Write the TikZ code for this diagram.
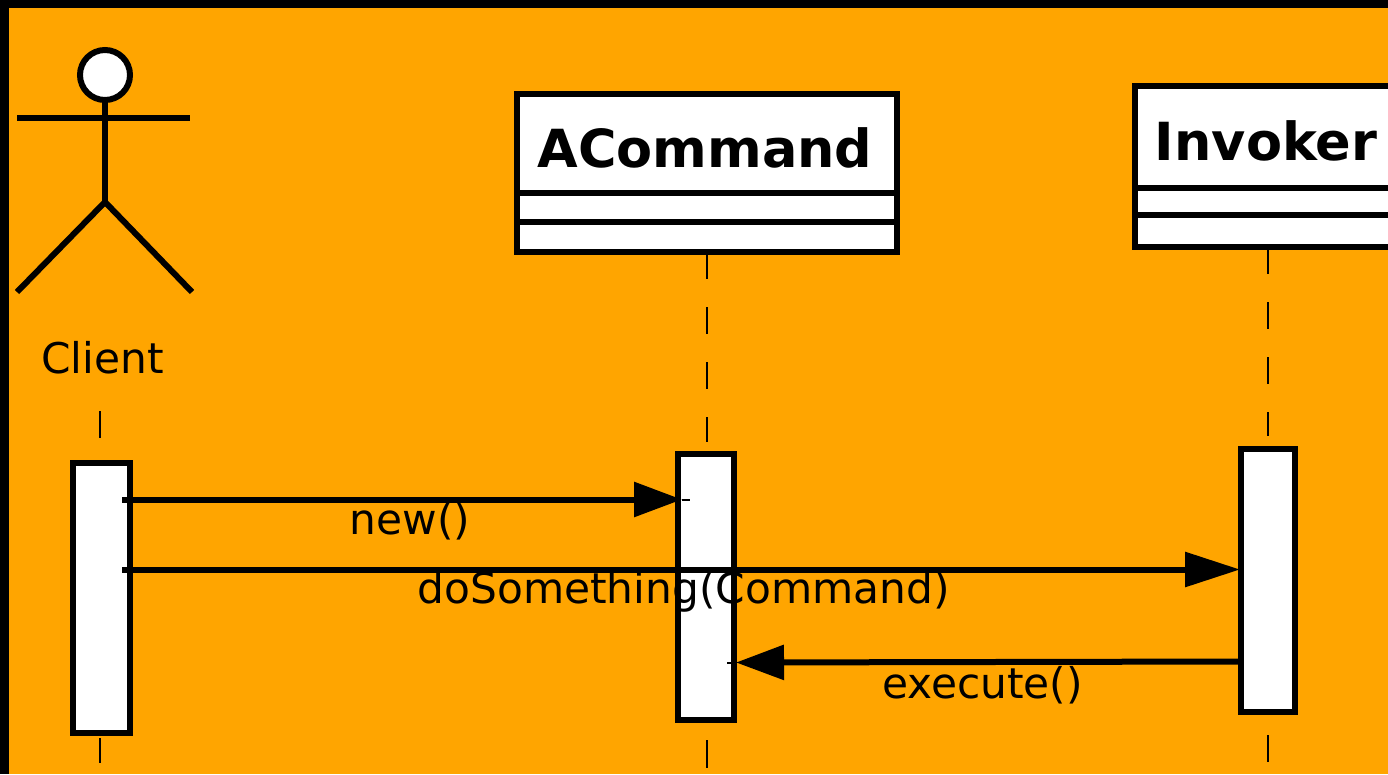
\documentclass[tikz,border=0pt]{standalone}
\usepackage{fontspec}
\setmainfont{DejaVu Sans}
\usetikzlibrary{arrows.meta}
\definecolor{bgorange}{HTML}{FFA500}
\tikzset{
  figure/.style={line width=6pt,line cap=butt},
  boxshape/.style={draw=black,fill=white,line width=6pt,rectangle,inner sep=0pt,outer sep=0pt},
  lifeline/.style={line width=2pt,dash pattern=on 27pt off 28pt},
  message/.style={line width=6pt,-{Triangle[length=48pt,width=34pt]}},
  longmessage/.style={line width=6pt,-{Triangle[length=55pt,width=34pt]}},
  tipline/.style={line width=2pt},
  msgtext/.style={inner sep=0pt,font=\fontsize{42.3}{50}\selectfont,text=black},
  classtext/.style={inner sep=0pt,font=\fontsize{52.5}{60}\bfseries\selectfont,text=black}
}
\begin{document}
\begin{tikzpicture}[x=1pt,y=-1pt]
\useasboundingbox (0,0) rectangle (1388,774);
\clip (0,0) rectangle (1388,774);
\fill[black] (0,0) rectangle (1388,774);
\fill[bgorange] (9,8) rectangle (1388,774);
% named points
\coordinate (clientTop) at (100,411);
\coordinate (clientBelow) at (100,738);
\coordinate (clientEnd) at (100,763);
\coordinate (cmdBelow) at (707,740);
\coordinate (cmdEnd) at (707,768);
\coordinate (invBelow) at (1268,735);
\coordinate (invEnd) at (1268,762);
\coordinate (armL) at (17,118);
\coordinate (armR) at (190,118);
\coordinate (neck) at (105,96);
\coordinate (hip) at (105,202);
\coordinate (legL) at (17,292);
\coordinate (legR) at (192,292);
\coordinate (newS) at (122,499.5);
\coordinate (newE) at (682,499.5);
\coordinate (newTip) at (690,499.5);
\coordinate (doS) at (122,569.5);
\coordinate (doE) at (1240,569.5);
\coordinate (exS) at (1242,661.5);
\coordinate (exE) at (736,662.5);
\coordinate (exTip) at (727,662.5);
\coordinate (cmdS1L) at (520,193);
\coordinate (cmdS1R) at (895,193);
\coordinate (cmdS2L) at (520,222);
\coordinate (cmdS2R) at (895,222);
\coordinate (invS1L) at (1137,188);
\coordinate (invS1R) at (1395,188);
\coordinate (invS2L) at (1137,215);
\coordinate (invS2R) at (1395,215);
\coordinate (cmdLife) at (707,252);
\coordinate (invLife) at (1268,247);
\coordinate (cmdActTop) at (707,442);
\coordinate (invActTop) at (1268,436);
\coordinate (clientActTop) at (100,440);
% class boxes
\node[boxshape,minimum width=380pt,minimum height=158pt] (cmd) at (707,173) {};
\node[boxshape,minimum width=263pt,minimum height=161pt] (inv) at (1266,166.5) {};
\draw[figure] (cmdS1L) -- (cmdS1R);
\draw[figure] (cmdS2L) -- (cmdS2R);
\draw[figure] (invS1L) -- (invS1R);
\draw[figure] (invS2L) -- (invS2R);
\node[classtext] (cmdText) at (705,148) {ACommand};
\node[classtext] (invText) at (1266,140.5) {Invoker};
% actor
\draw[figure] (neck) -- (hip);
\draw[figure] (armL) -- (armR);
\draw[figure] (legL) -- (hip) -- (legR);
\node[boxshape,circle,minimum size=50pt] (head) at (105,75) {};
\node[msgtext] (clientText) at (102.5,358) {Client};
% lifelines
\draw[lifeline] (clientTop) -- (clientActTop);
\draw[lifeline] (cmdLife) -- (cmdActTop);
\draw[lifeline] (invLife) -- (invActTop);
\draw[line width=2pt] (clientBelow) -- (clientEnd);
\draw[line width=2pt] (cmdBelow) -- (cmdEnd);
\draw[line width=2pt] (invBelow) -- (invEnd);
% activations
\node[boxshape,minimum width=57pt,minimum height=270pt] (clientAct) at (101,598) {};
\node[boxshape,minimum width=55.5pt,minimum height=265.5pt] (cmdAct) at (706,587) {};
\node[boxshape,minimum width=54pt,minimum height=263pt] (invAct) at (1268,580.5) {};
% messages
\draw[tipline] (newE) -- (newTip);
\draw[tipline] (exE) -- (exTip);
\draw[message] (newS) -- (newE);
\draw[longmessage] (doS) -- (doE);
\draw[message] (exS) -- (exE);
\node[msgtext] (newText) at (410,521.5) {new()};
\node[msgtext] (doText) at (683.5,591.5) {doSomething(Command)};
\node[msgtext] (exText) at (982.5,685) {execute()};
\end{tikzpicture}
\end{document}
